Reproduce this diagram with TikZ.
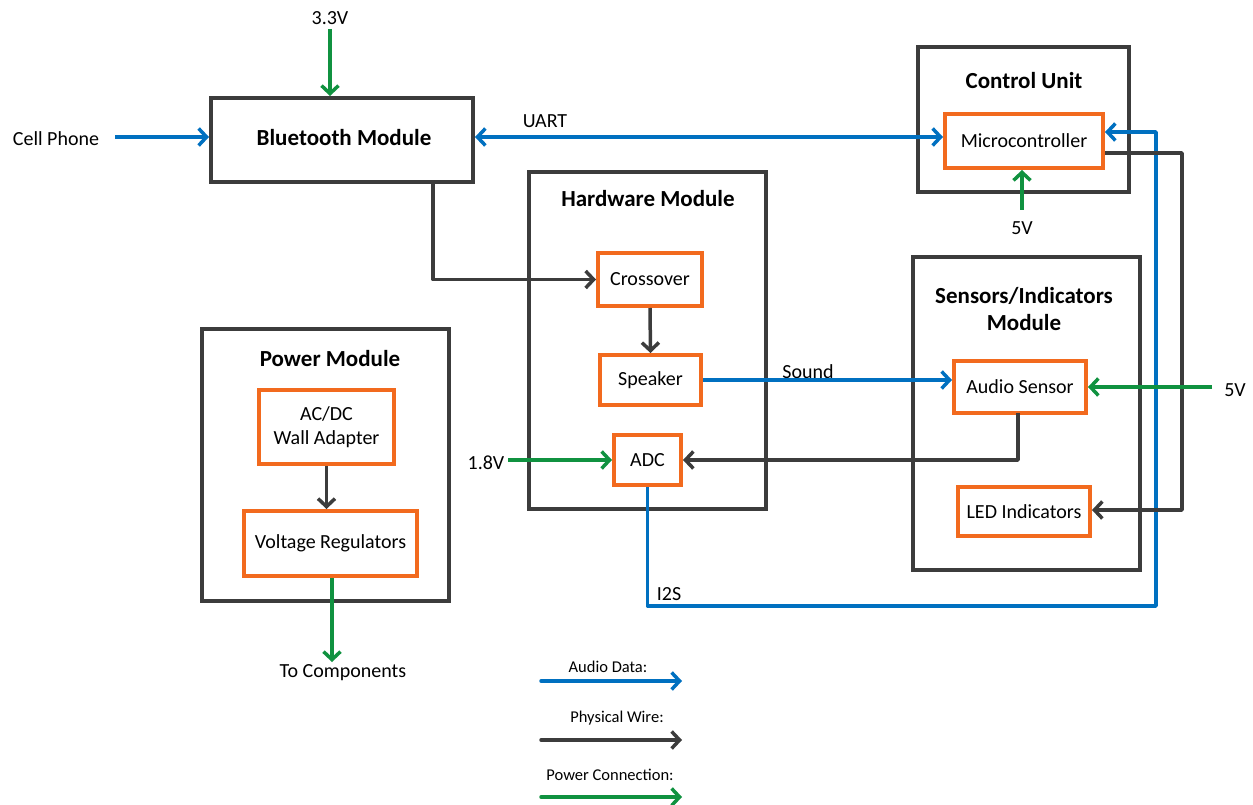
\documentclass[tikz,border=0pt]{standalone}
\usepackage{fontspec}
\setmainfont{Carlito}
\usetikzlibrary{arrows.meta}
\definecolor{dk}{RGB}{60,60,60}
\definecolor{orng}{RGB}{242,106,30}
\definecolor{blu}{RGB}{0,112,192}
\definecolor{grn}{RGB}{16,146,64}
\tikzset{
  modbox/.style={draw=dk, line width=4pt, inner sep=0pt, align=center},
  subbox/.style={draw=orng, line width=4pt, inner sep=0pt, align=center, font=\fontsize{20}{24}\selectfont},
  ttl/.style={font=\fontsize{23}{27}\selectfont\bfseries, align=center, inner sep=0pt},
  lbl/.style={font=\fontsize{20}{24}\selectfont, inner sep=0pt},
  leg/.style={font=\fontsize{16.5}{20}\selectfont, inner sep=0pt},
  tip/.style={-{Straight Barb[length=8pt,width=17pt]}},
  audio/.style={draw=blu, line width=3.5pt, tip, line join=round},
  wire/.style={draw=dk, line width=3.5pt, tip, line join=round},
  pwr/.style={draw=grn, line width=3.5pt, tip, line join=round},
}
\begin{document}
\begin{tikzpicture}[x=1pt,y=-1pt]
\useasboundingbox (0,0) rectangle (1253,805);
% modules
\node[modbox, minimum width=262pt, minimum height=84pt] (bt) at (342,140) {};
\node[ttl] (btt) at (344,138) {Bluetooth Module};
\node[modbox, minimum width=211pt, minimum height=145pt] (cu) at (1023.5,119.5) {};
\node[ttl] (cut) at (1024,81) {Control Unit};
\node[subbox, minimum width=158pt, minimum height=54pt] (mc) at (1024,141) {Microcontroller};
\node[modbox, minimum width=227pt, minimum height=313pt] (si) at (1026.5,413.5) {};
\node[ttl] (sit) at (1024,309) {Sensors/Indicators\\Module};
\node[subbox, minimum width=132pt, minimum height=52pt] (as) at (1020,387) {Audio Sensor};
\node[subbox, minimum width=132pt, minimum height=49pt] (led) at (1024,511.5) {LED Indicators};
\node[modbox, minimum width=237pt, minimum height=337pt] (hw) at (647.5,340.5) {};
\node[ttl] (hwt) at (648,199) {Hardware Module};
\node[subbox, minimum width=104pt, minimum height=53pt] (cr) at (650,279.5) {Crossover};
\node[subbox, minimum width=101pt, minimum height=50pt] (sp) at (650.5,380) {Speaker};
\node[subbox, minimum width=67pt, minimum height=50pt] (adc) at (647.5,460) {ADC};
\node[modbox, minimum width=247pt, minimum height=272pt] (pm) at (325.5,465) {};
\node[ttl] (pmt) at (330,359) {Power Module};
\node[subbox, minimum width=135pt, minimum height=74pt, font=\fontsize{20}{24}\selectfont] (ac) at (326.5,427) {AC/DC\\Wall Adapter};
\node[subbox, minimum width=173pt, minimum height=65pt] (vr) at (330.5,543.5) {Voltage Regulators};
% labels
\node[lbl] (v33) at (330,18) {3.3V};
\node[lbl] (cell) at (56,139) {Cell Phone};
\node[lbl] (uart) at (545,121) {UART};
\node[lbl] (v5a) at (1022,228) {5V};
\node[lbl] (v5b) at (1235,390) {5V};
\node[lbl] (sound) at (808,372) {Sound};
\node[lbl] (v18) at (486,463) {1.8V};
\node[lbl] (i2s) at (669,594) {I2S};
\node[lbl] (tc) at (343,673) {To Components};
% coordinates
\coordinate (v33s) at (330,29);
\coordinate (cells) at (115,137);
\coordinate (uartc) at (700,137);
\coordinate (v5as) at (1022,210);
\coordinate (i2sA) at (1156,606);
\coordinate (i2sB) at (1156,132);
\coordinate (wireA) at (1182,153);
\coordinate (wireB) at (1182,510);
\coordinate (v5bs) at (1212,387);
\coordinate (asd) at (1018,413);
\coordinate (btd) at (433,182);
\coordinate (v18s) at (508,460);
\coordinate (tce) at (332,662);
% connectors
\draw[pwr] (v33s) -- (bt.north -| v33s);
\draw[audio] (cells) -- (bt.west |- cells);
\draw[audio, {Straight Barb[length=8pt,width=17pt]}-{Straight Barb[length=8pt,width=17pt]}] (bt.east |- uartc) -- (mc.west |- uartc);
\draw[pwr] (v5as) -- (mc.south -| v5as);
\draw[audio] (adc.south) |- (i2sA) -- (i2sB) -- (mc.east |- i2sB);
\draw[wire] (mc.east |- wireA) -- (wireA) -- (wireB) -- (led.east |- wireB);
\draw[pwr] (v5bs) -- (as.east |- v5bs);
\draw[wire] (asd) |- (adc.east);
\draw[audio] (sp.east) -- (as.west |- sp.east);
\draw[pwr] (v18s) -- (adc.west);
\draw[wire] (btd) |- (cr.west);
\draw[wire] (cr.south) -- (sp.north);
\draw[wire] (ac.south) -- (ac.south |- vr.north);
\draw[pwr] (vr.south -| tce) -- (tce);
% legend
\node[leg] (lga) at (608,667) {Audio Data:};
\node[leg] (lgw) at (617,718) {Physical Wire:};
\node[leg] (lgp) at (610,775) {Power Connection:};
\coordinate (la1) at (541,681); \coordinate (la2) at (682,681);
\coordinate (lw1) at (541,740); \coordinate (lw2) at (682,740);
\coordinate (lp1) at (541,797); \coordinate (lp2) at (682,797);
\draw[audio, line cap=round] (la1) -- (la2);
\draw[wire, line cap=round] (lw1) -- (lw2);
\draw[pwr, line cap=round] (lp1) -- (lp2);
\end{tikzpicture}
\end{document}
